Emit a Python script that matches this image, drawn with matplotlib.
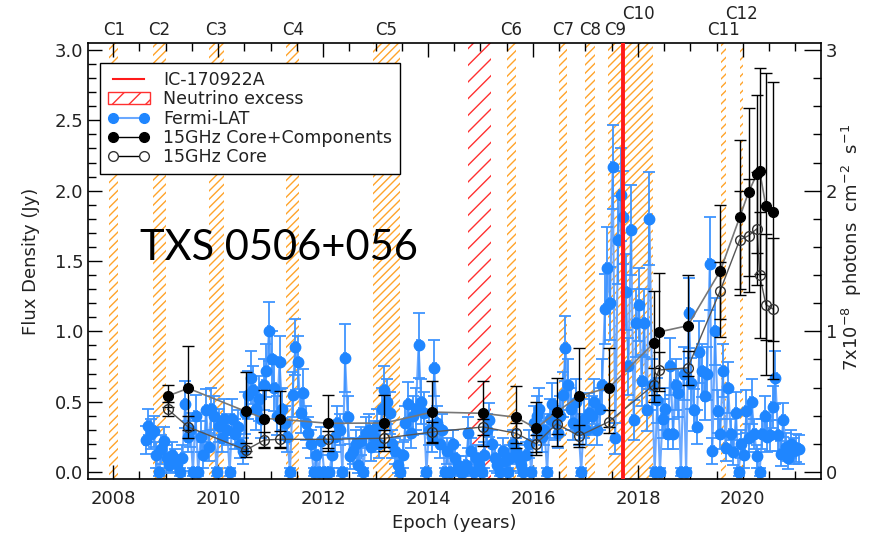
import numpy as np
import matplotlib
matplotlib.use("Agg")
import matplotlib.pyplot as plt
from matplotlib.lines import Line2D
from matplotlib.patches import Patch
from matplotlib.ticker import MultipleLocator, FormatStrFormatter

# ---- Fermi-LAT light curve (binned, 0.05 yr bins starting 2008.62) ----
FERMI_T0 = 2008.62
FERMI_DT = 0.05
fermi_flux = [
    0.23, 0.33, 0.27, 0.29, 0.12, 0.0, 0.16, 0.22, 0.10, 0.05,
    0.12, 0.08, 0.06, 0.0, 0.10, 0.48, 0.25, 0.30, 0.0, 0.40,
    0.0, 0.25, 0.12, 0.44, 0.18, 0.45, 0.40, 0.0, 0.33, 0.24,
    0.38, 0.30, 0.0, 0.38, 0.27, 0.32, 0.20, 0.15, 0.42, 0.55,
    0.67, 0.58, 0.45, 0.52, 0.38, 0.62, 0.72, 1.00, 0.80, 0.60,
    0.40, 0.78, 0.45, 0.35, 0.25, 0.0, 0.55, 0.89, 0.78, 0.42,
    0.56, 0.35, 0.28, 0.20, 0.0, 0.12, 0.0, 0.22, 0.0, 0.0,
    0.0, 0.12, 0.25, 0.35, 0.30, 0.0, 0.81, 0.39, 0.11, 0.15,
    0.20, 0.05, 0.22, 0.0, 0.28, 0.30, 0.18, 0.25, 0.33, 0.20,
    0.45, 0.58, 0.50, 0.42, 0.20, 0.15, 0.05, 0.0, 0.12, 0.35,
    0.48, 0.28, 0.40, 0.45, 0.90, 0.50, 0.42, 0.0, 0.30, 0.25,
    0.74, 0.35, 0.20, 0.30, 0.0, 0.15, 0.0, 0.20, 0.10, 0.05,
    0.0, 0.0, 0.05, 0.28, 0.15, 0.0, 0.10, 0.05, 0.0, 0.12,
    0.30, 0.37, 0.20, 0.10, 0.05, 0.0, 0.15, 0.08, 0.0, 0.10,
    0.20, 0.15, 0.10, 0.05, 0.0, 0.12, 0.20, 0.0, 0.35, 0.40,
    0.45, 0.25, 0.30, 0.0, 0.38, 0.48, 0.35, 0.28, 0.40, 0.55,
    0.88, 0.62, 0.45, 0.35, 0.50, 0.30, 0.0, 0.38, 0.30, 0.42,
    0.40, 0.50, 0.30, 0.45, 0.62, 1.16, 1.45, 1.20, 2.17, 0.24,
    1.65, 1.97, 1.81, 1.28, 0.75, 1.72, 0.37, 1.06, 1.19, 0.65,
    1.06, 0.44, 1.80, 0.62, 0.0, 0.51, 0.0, 0.38, 0.45, 0.27,
    0.75, 0.27, 0.62, 0.56, 0.0, 0.70, 0.0, 1.13, 0.63, 0.44,
    0.32, 0.85, 0.72, 0.54, 0.70, 1.48, 0.15, 1.00, 0.43, 0.27,
    0.72, 0.17, 0.60, 0.27, 0.14, 0.42, 0.0, 0.20, 0.12, 0.43,
    0.24, 0.50, 0.27, 0.11, 0.0, 0.27, 0.40, 0.25, 0.26, 0.46,
    0.67, 0.26, 0.13, 0.37, 0.18, 0.10, 0.20, 0.15, 0.17, 0.16,
]
fermi_err = [
    0.10, 0.12, 0.11, 0.11, 0.09, 0.03, 0.10, 0.10, 0.09, 0.06,
    0.09, 0.08, 0.06, 0.03, 0.09, 0.17, 0.11, 0.12, 0.03, 0.15,
    0.03, 0.11, 0.09, 0.15, 0.10, 0.15, 0.14, 0.03, 0.12, 0.10,
    0.14, 0.11, 0.03, 0.14, 0.11, 0.12, 0.10, 0.09, 0.15, 0.17,
    0.19, 0.17, 0.15, 0.16, 0.14, 0.18, 0.19, 0.21, 0.20, 0.17,
    0.14, 0.19, 0.15, 0.12, 0.11, 0.03, 0.16, 0.20, 0.19, 0.14,
    0.17, 0.12, 0.11, 0.10, 0.03, 0.09, 0.03, 0.10, 0.03, 0.03,
    0.03, 0.09, 0.11, 0.12, 0.11, 0.03, 0.24, 0.15, 0.09, 0.09,
    0.10, 0.06, 0.10, 0.03, 0.11, 0.11, 0.10, 0.11, 0.12, 0.10,
    0.15, 0.17, 0.16, 0.15, 0.10, 0.09, 0.06, 0.03, 0.09, 0.12,
    0.16, 0.11, 0.14, 0.15, 0.23, 0.16, 0.15, 0.03, 0.11, 0.11,
    0.20, 0.12, 0.10, 0.11, 0.03, 0.09, 0.03, 0.10, 0.09, 0.06,
    0.03, 0.03, 0.06, 0.11, 0.09, 0.03, 0.09, 0.06, 0.03, 0.09,
    0.11, 0.12, 0.10, 0.09, 0.06, 0.03, 0.09, 0.08, 0.03, 0.09,
    0.10, 0.09, 0.09, 0.06, 0.03, 0.09, 0.10, 0.03, 0.12, 0.14,
    0.15, 0.11, 0.11, 0.03, 0.14, 0.15, 0.12, 0.11, 0.14, 0.16,
    0.23, 0.18, 0.15, 0.12, 0.16, 0.11, 0.03, 0.14, 0.11, 0.14,
    0.14, 0.16, 0.11, 0.15, 0.18, 0.25, 0.29, 0.26, 0.30, 0.11,
    0.31, 0.33, 0.33, 0.27, 0.20, 0.32, 0.14, 0.24, 0.26, 0.18,
    0.24, 0.15, 0.33, 0.18, 0.03, 0.16, 0.03, 0.14, 0.15, 0.11,
    0.20, 0.11, 0.18, 0.17, 0.03, 0.19, 0.03, 0.25, 0.18, 0.15,
    0.12, 0.22, 0.19, 0.17, 0.19, 0.33, 0.09, 0.24, 0.15, 0.11,
    0.19, 0.09, 0.18, 0.11, 0.09, 0.15, 0.03, 0.10, 0.09, 0.15,
    0.10, 0.16, 0.11, 0.08, 0.03, 0.11, 0.14, 0.11, 0.11, 0.15,
    0.19, 0.11, 0.09, 0.12, 0.10, 0.08, 0.10, 0.09, 0.10, 0.10,
]

# ---- 15 GHz VLBA ----
radio_t = [2009.04, 2009.43, 2010.53, 2010.88, 2011.17, 2012.10, 2013.17, 2014.08,
           2015.05, 2015.68, 2016.06, 2016.45, 2016.88, 2017.45, 2018.30, 2018.40,
           2018.95, 2019.57, 2019.94, 2020.11, 2020.27, 2020.32, 2020.44, 2020.57]
core_comp = [0.54, 0.595, 0.43, 0.38, 0.375, 0.346, 0.348, 0.426,
             0.417, 0.389, 0.31, 0.426, 0.54, 0.60, 0.915, 0.995,
             1.04, 1.43, 1.81, 1.99, 2.12, 2.14, 1.89, 1.85]
core_comp_err = [0.08, 0.30, 0.28, 0.20, 0.20, 0.20, 0.20, 0.22,
                 0.23, 0.22, 0.19, 0.24, 0.34, 0.28, 0.37, 0.42,
                 0.36, 0.47, 0.55, 0.60, 0.56, 0.73, 0.95, 0.92]
core = [0.446, 0.32, 0.156, 0.227, 0.232, 0.232, 0.24, 0.284,
        0.32, 0.275, 0.20, 0.343, 0.256, 0.358, 0.618, 0.725,
        0.74, 1.29, 1.65, 1.68, 1.73, 1.40, 1.19, 1.16]
core_err = [0.05, 0.08, 0.05, 0.06, 0.06, 0.06, 0.06, 0.07,
            0.06, 0.07, 0.06, 0.07, 0.08, 0.08, 0.12, 0.13,
            0.12, 0.20, 0.35, 0.40, 0.40, 0.45, 0.50, 0.50]

# ---- epochs of interest ----
comp_names = ["C1", "C2", "C3", "C4", "C5", "C6", "C7", "C8", "C9", "C10", "C11", "C12"]
comp_start = [2007.92, 2008.76, 2009.83, 2011.30, 2012.95, 2015.50,
              2016.50, 2017.00, 2017.43, 2017.72, 2019.59, 2019.95]
comp_end = [2008.10, 2009.00, 2010.11, 2011.55, 2013.47, 2015.68,
            2016.65, 2017.18, 2017.72, 2018.29, 2019.68, 2020.01]
nu_excess = (2014.77, 2015.20)
ic_event = 2017.72

BLUE = "#1f86ff"
BLUE_ERR = "#3f95ff"
BLUE_LN = "#6aa8ff"
ORANGE = "#ffa42b"
TXT = "#222222"

plt.rcParams["font.family"] = ["DejaVu Sans"]
plt.rcParams["hatch.linewidth"] = 1.0

fig = plt.figure(figsize=(8.74, 5.37), dpi=100)
ax = fig.add_axes([88 / 874, 1 - 479 / 537, 733 / 874, 436 / 537])

# hatched bands
for i, (a, b) in enumerate(zip(comp_start, comp_end)):
    ax.axvspan(a, b, facecolor="none", edgecolor=ORANGE, hatch="////", lw=0, zorder=0)
    y = 1.066 if comp_names[i] in ("C10", "C12") else 1.03
    ax.text((a + b) / 2, y, comp_names[i], transform=ax.get_xaxis_transform(),
            ha="center", va="center", fontsize=12, color=TXT)
ax.axvspan(*nu_excess, facecolor="none", edgecolor="#ff3030", hatch="//", lw=0, zorder=0)

# Fermi-LAT
fermi_t = FERMI_T0 + FERMI_DT * np.arange(len(fermi_flux))
ax.plot(fermi_t, fermi_flux, color=BLUE_LN, lw=1.5, zorder=2)
ax.errorbar(fermi_t, fermi_flux, yerr=fermi_err, xerr=FERMI_DT / 2, fmt="o", ms=7.5,
            color=BLUE, mec=BLUE, ecolor=BLUE_ERR, elinewidth=1.3, capsize=4.5,
            capthick=1.3, zorder=2)

# 15 GHz radio
ax.plot(radio_t, core_comp, color="#777777", lw=1.2, zorder=3)
ax.errorbar(radio_t, core_comp, yerr=core_comp_err, fmt="o", ms=7, color="black",
            ecolor="black", elinewidth=1.0, capsize=4.5, capthick=1.0, zorder=3)
ax.plot(radio_t, core, color="#555555", lw=1.0, zorder=3)
ax.errorbar(radio_t, core, yerr=core_err, fmt="o", ms=7, mfc="none", mec="#333333",
            ecolor="black", elinewidth=1.0, capsize=4.5, capthick=1.0, zorder=3)

ax.axvline(ic_event, color="#ff1a1a", lw=2.8, zorder=4)

ax.text(0.071, 0.53, "TXS 0506+056", transform=ax.transAxes, fontsize=30,
        family=["Lato", "DejaVu Sans"], color="black", va="center", ha="left")

# axes
ax.set_xlim(2007.52, 2021.49)
ax.set_ylim(-0.05, 3.05)
ax.xaxis.set_major_locator(MultipleLocator(2))
ax.xaxis.set_minor_locator(MultipleLocator(0.5))
ax.yaxis.set_major_locator(MultipleLocator(0.5))
ax.yaxis.set_minor_locator(MultipleLocator(0.1))
ax.yaxis.set_major_formatter(FormatStrFormatter("%.1f"))
ax.tick_params(which="both", direction="in", top=True, right=False, colors="black",
               labelcolor=TXT, labelsize=13, width=1.0)
ax.tick_params(which="major", length=10)
ax.tick_params(which="minor", length=6)
ax.tick_params(axis="x", pad=8)
for s in ax.spines.values():
    s.set_linewidth(1.2)
ax.set_xlabel("Epoch (years)", fontsize=13, color=TXT)
ax.set_ylabel("Flux Density (Jy)", fontsize=13, color=TXT)
ax.yaxis.set_label_coords(-0.066, 0.5)

ax2 = ax.twinx()
ax2.set_ylim(-0.05, 3.05)
ax2.yaxis.set_major_locator(MultipleLocator(1))
ax2.yaxis.set_minor_locator(MultipleLocator(0.2))
ax2.tick_params(which="both", direction="in", labelcolor=TXT, labelsize=13, width=1.0)
ax2.tick_params(which="major", length=12)
ax2.tick_params(which="minor", length=6)
ax2.set_ylabel(r"7x10$^{-8}$  photons  cm$^{-2}$  s$^{-1}$", fontsize=13, color=TXT)
ax2.yaxis.set_label_coords(1.026, 0.532)
for s in ax2.spines.values():
    s.set_visible(False)

handles = [
    Line2D([], [], color="#ff1a1a", lw=1.5),
    Patch(facecolor="white", edgecolor="#ff3030", hatch="//"),
    Line2D([], [], color=BLUE_LN, lw=1.5, marker="o", ms=7, mfc=BLUE, mec=BLUE),
    Line2D([], [], color="black", lw=1.0, marker="o", ms=7, mfc="black", mec="black"),
    Line2D([], [], color="black", lw=1.0, marker="o", ms=7, mfc="white", mec="#333333"),
]
labels = ["IC-170922A", "Neutrino excess", "Fermi-LAT", "15GHz Core+Components", "15GHz Core"]
leg = ax.legend(handles, labels, loc="upper left", bbox_to_anchor=(0.0164, 0.954),
                borderaxespad=0, fontsize=12.5, numpoints=2, handlelength=2.4,
                handletextpad=0.8, labelspacing=0.08, borderpad=0.45, fancybox=False,
                framealpha=1, edgecolor="black", labelcolor=TXT)
leg.get_frame().set_linewidth(1.0)
leg.set_zorder(6)

fig.savefig("out.png", dpi=100)
